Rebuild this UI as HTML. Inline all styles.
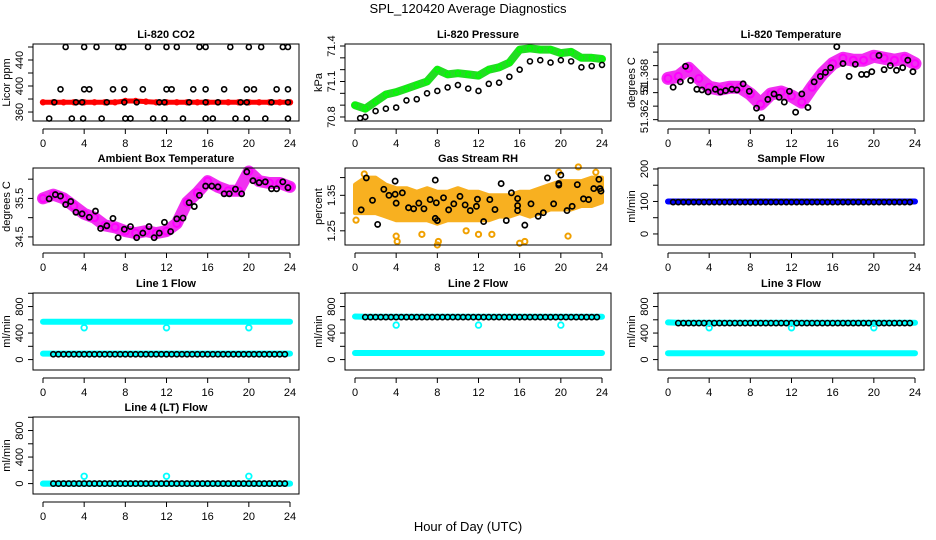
<!DOCTYPE html>
<html><head><meta charset="utf-8"><style>
html,body{margin:0;padding:0;background:#fff;}
svg{display:block;font-family:"Liberation Sans",Arial,sans-serif;}
</style></head><body>
<svg id="chart" width="936" height="540" viewBox="0 0 936 540" xmlns="http://www.w3.org/2000/svg">
<rect x="0" y="0" width="936" height="540" fill="#fff"/>
<text x="468" y="13" text-anchor="middle" font-size="13">SPL_120420  Average Diagnostics</text>
<text x="468" y="531" text-anchor="middle" font-size="13">Hour of Day (UTC)</text>
</svg>
<script>
// ---------- data ----------
const hours = [0,1,2,3,4,5,6,7,8,9,10,11,12,13,14,15,16,17,18,19,20,21,22,23,24];
const xTicks = [0,4,8,12,16,20,24];

const co2Red = [375,375,375,375,375,375,375,375,377,377,376,375,375,375,375,375,375,375,375,375,375,375,375,375,375];
const co2BlackT = [2.2,4,5.2,7.3,7.8,10.2,12,13,15.2,15.8,18.2,20,21.2,23.3,23.8,
  1.7,4,4.5,6.8,7.9,9.7,12,12.5,14.6,15.8,17.6,19.8,20.5,22.7,23.8,
  1.1,3.2,3.8,6.2,7.9,9.1,11.3,11.8,14.2,15.8,17,19.2,19.8,22.2,23.8,
  0.6,2.8,3.9,5.7,8,8.5,10.7,11.8,13.6,15.8,16.5,18.7,19.8,21.6,23.8];
const co2BlackV = [460,460,460,460,460,460,460,460,460,460,460,460,460,460,460,
  395,395,395,395,395,395,395,395,395,395,395,395,395,395,395,
  375,375,375,375,375,375,375,375,375,375,375,375,375,375,375,
  350,350,350,350,350,350,350,350,350,350,350,350,350,350,350];

const presGreen = [70.90,70.87,70.93,70.99,71.01,71.04,71.07,71.10,71.20,71.16,71.17,71.16,71.15,71.20,71.22,71.26,71.37,71.38,71.37,71.37,71.34,71.35,71.30,71.30,71.29];
const presBlackT = [0.5,1,2,3,4,5,6,7,8,9,10,11,12,13,14,15,16,17,18,19,20,21,22,23,24];
const presBlackV = [70.79,70.80,70.85,70.87,70.88,70.94,70.95,71.00,71.02,71.05,71.07,71.04,71.02,71.08,71.09,71.14,71.20,71.27,71.28,71.26,71.28,71.27,71.22,71.23,71.24];

const tempMag = [51.3681,51.3684,51.3696,51.3681,51.3668,51.3665,51.3668,51.3668,51.3658,51.3643,51.3658,51.3661,51.3655,51.3646,51.3668,51.3688,51.3703,51.3711,51.3708,51.3708,51.3714,51.3711,51.3708,51.3711,51.3703];
const tempBlackT = [0.5,1.2,1.7,2.2,2.8,3.3,3.9,4.6,5.1,5.6,6.2,6.7,7.3,7.9,8.6,9.1,9.7,10.3,10.8,11.3,11.8,12.4,13,13.6,14.2,14.8,15.3,15.8,16.4,17,17.6,18.2,18.8,19.3,19.8,20.5,21,21.6,22.2,22.8,23.3,23.8];
const tempBlackV = [51.3668,51.3676,51.3699,51.3678,51.3665,51.3664,51.3661,51.3665,51.3661,51.3663,51.3665,51.3664,51.3673,51.3662,51.3637,51.3623,51.3650,51.3658,51.3653,51.3646,51.3662,51.3631,51.3658,51.3638,51.3676,51.3684,51.3690,51.3697,51.3728,51.3703,51.3684,51.3702,51.3687,51.3687,51.3691,51.3715,51.3694,51.3700,51.3693,51.3697,51.3708,51.3691];

const ambMag = [35.5,35.6,35.5,35.3,35.1,35.0,34.8,34.75,34.65,34.6,34.65,34.6,34.65,34.85,35.4,35.65,35.95,35.8,35.7,35.7,36.2,35.95,35.9,35.9,35.8];
const ambBlackT = [0.6,1.2,1.7,2.2,2.7,3.2,3.8,4.5,5.1,5.6,6.2,6.8,7.3,7.9,8.5,9.1,9.7,10.3,10.8,11.3,11.8,12.4,13,13.6,14.2,14.7,15.2,15.8,16.4,17,17.6,18.1,18.7,19.3,19.8,20.4,21,21.6,22.2,22.7,23.3,23.8];
const ambBlackV = [35.49,35.6,35.56,35.34,35.42,35.14,35.10,35.01,35.17,34.72,34.79,34.98,34.48,34.70,34.77,34.48,34.6,34.77,34.48,34.6,34.88,34.64,34.97,34.99,35.39,35.29,35.58,35.82,35.82,35.8,35.62,35.62,35.74,35.62,36.19,35.96,35.91,35.93,35.75,35.75,35.93,35.78];

const rhUpper = [1.38,1.40,1.40,1.38,1.37,1.37,1.36,1.37,1.36,1.36,1.37,1.36,1.36,1.35,1.35,1.35,1.36,1.36,1.37,1.38,1.39,1.39,1.39,1.40,1.40];
const rhLower = [1.30,1.30,1.30,1.29,1.28,1.28,1.28,1.28,1.27,1.28,1.28,1.28,1.28,1.28,1.29,1.29,1.30,1.29,1.30,1.31,1.31,1.31,1.32,1.32,1.33];
const rhOutT = [0.1,0.9,4,4.1,6.5,8,8.1,10.8,12,13.3,16,16.5,19.8,20.7,21.7,23.4];
const rhOutV = [1.28,1.41,1.235,1.22,1.24,1.21,1.22,1.25,1.24,1.24,1.215,1.22,1.415,1.235,1.43,1.415];
const rhBlackT = [0.6,1.1,1.7,2.2,2.8,3.3,3.9,3.9,4,4.6,5.2,5.7,6.2,6.7,7.3,7.8,7.8,7.9,8,8.6,9.1,9.6,10.2,10.7,11.2,11.8,11.9,12.5,13.1,13.6,14.2,14.7,15.2,15.8,15.8,15.8,16.5,17.1,17.8,18.3,18.7,19.3,19.8,19.8,20,20.6,21.1,21.6,22.2,22.7,23.2,23.7,23.8,23.9];
const rhBlackV = [1.309,1.399,1.336,1.268,1.367,1.35,1.39,1.353,1.328,1.357,1.315,1.312,1.328,1.312,1.338,1.285,1.393,1.329,1.279,1.343,1.309,1.326,1.347,1.323,1.307,1.319,1.339,1.276,1.338,1.31,1.383,1.279,1.357,1.341,1.321,1.307,1.266,1.326,1.291,1.301,1.399,1.326,1.383,1.379,1.407,1.307,1.319,1.38,1.34,1.338,1.369,1.395,1.369,1.362];

const sampleBlue = [100,100,100,100,100,100,100,100,100,100,100,100,100,100,100,100,100,100,100,100,100,100,100,100,100];
const sampleBlack = new Array(47).fill(98);

const dipTimes = [4,12,20];
const l1Upper = [570,570,570,570,570,570,570,570,570,570,570,570,570,570,570,570,570,570,570,570,570,570,570,570,570];
const l1Lower = [90,90,90,90,90,90,90,90,90,90,90,90,90,90,90,90,90,90,90,90,90,90,90,90,90];
const l1Black = new Array(46).fill(80);
const l1Dip = [480,480,480];
const l2Upper = [650,645,645,645,645,645,645,645,645,645,645,645,645,645,645,645,645,645,645,645,645,645,645,645,645];
const l2Lower = [100,100,100,100,100,100,100,100,100,100,100,100,100,100,100,100,100,100,100,100,100,100,100,100,100];
const l2Black = new Array(46).fill(640);
const l2Dip = [520,520,520];
const l3Upper = [560,555,555,555,555,555,555,555,555,555,555,555,555,555,555,555,555,555,555,555,555,555,555,555,555];
const l3Lower = [95,95,95,95,95,95,95,95,95,95,95,95,95,95,95,95,95,95,95,95,95,95,95,95,95];
const l3Black = new Array(46).fill(550);
const l3Dip = [480,480,480];
const l4Upper = [0,0,0,0,0,0,0,0,0,0,0,0,0,0,0,0,0,0,0,0,0,0,0,0,0];
const l4Lower = [0,0,0,0,0,0,0,0,0,0,0,0,0,0,0,0,0,0,0,0,0,0,0,0,0];
const l4Black = new Array(46).fill(0);
const l4Dip = [110,110,110];

// ---------- layout ----------
const svg = document.getElementById('chart');
const NS = 'http://www.w3.org/2000/svg';
const colL = [33, 345, 658];
const rowT = [44, 168, 293, 417];
const BW = 266, BH = 77;

function mk(tag, attrs, name, parent) {
  const e = document.createElementNS(NS, tag);
  for (const k in attrs) e.setAttribute(k, attrs[k]);
  
  
  (parent || svg).appendChild(e);
  return e;
}

function panel(col, row, title, ylab, ymin, ymax, yTickVals, yLabVals, yLabTexts, key) {
  const L = colL[col], T = rowT[row];
  const g = mk('g', {}, key + '-panel');
  const p = {
    L, T, g,
    x: t => L + 10 + t * 247 / 24,
    y: v => T + (ymax - v) / (ymax - ymin) * BH
  };
  mk('text', {x: L + BW / 2, y: T - 6, 'text-anchor': 'middle', 'font-size': 11, 'font-weight': 'bold'}, key + '-title', g).textContent = title;
  const ax = mk('g', {}, key + '-x-axis', g);
  const ay = T + BH + 8;
  mk('line', {x1: p.x(0), x2: p.x(24), y1: ay, y2: ay, stroke: '#000'}, 'x-axis-line', ax);
  xTicks.forEach(t => {
    mk('line', {x1: p.x(t), x2: p.x(t), y1: ay, y2: ay + 5, stroke: '#000'}, 'x-tick', ax);
    mk('text', {x: p.x(t), y: ay + 18, 'text-anchor': 'middle', 'font-size': 11}, 'x-tick-label', ax).textContent = t;
  });
  const yg = mk('g', {}, key + '-y-axis', g);
  yTickVals.forEach(v => {
    mk('line', {x1: L - 5, x2: L, y1: p.y(v), y2: p.y(v), stroke: '#000'}, 'y-tick', yg);
  });
  yLabVals.forEach((v, i) => {
    const yy = p.y(v), xx = L - 10;
    mk('text', {x: xx, y: yy, transform: `rotate(-90 ${xx} ${yy})`, 'text-anchor': 'middle', 'font-size': 11}, 'y-tick-label', yg).textContent = yLabTexts[i];
  });
  const yx = L - 23, yy = T + BH / 2;
  mk('text', {x: yx, y: yy, transform: `rotate(-90 ${yx} ${yy})`, 'text-anchor': 'middle', 'font-size': 11}, key + '-y-title', g).textContent = ylab;
  p.plot = mk('g', {}, key + '-plot-area', g);
  p.drawBox = () => mk('rect', {x: L, y: T, width: BW, height: BH, fill: 'none', stroke: '#000'}, key + '-frame', g);
  return p;
}

function band(p, ts, vs, color, w, name) {
  const pts = ts.map((t, i) => p.x(t).toFixed(1) + ',' + p.y(vs[i]).toFixed(1)).join(' ');
  mk('polyline', {points: pts, fill: 'none', stroke: color, 'stroke-width': w, 'stroke-linejoin': 'round', 'stroke-linecap': 'round'}, name, p.plot);
}
function circles(p, ts, vs, color, r, name, sw) {
  ts.forEach((t, i) => {
    mk('circle', {cx: p.x(t), cy: p.y(vs[i]), r: r, fill: 'none', stroke: color, 'stroke-width': sw || 1.4}, name, p.plot);
  });
}
function steps(n, start, step) { return Array.from({length: n}, (_, i) => start + i * step); }

// CO2
let p = panel(0, 0, 'Li-820 CO2', 'Licor ppm', 346.2, 464.6, [360,380,400,420,440,460], [360,400,440], ['360','400','440'], 'co2');
band(p, hours, co2Red, '#ff0000', 5, 'co2-red-series');
circles(p, hours, co2Red, '#ff0000', 2.5, 'co2-red-point');
circles(p, co2BlackT, co2BlackV, '#000', 2.5, 'co2-black-point', 1.6);
p.drawBox();

// Pressure
p = panel(1, 0, 'Li-820 Pressure', 'kPa', 70.766, 71.417, [70.8,70.9,71.0,71.1,71.2,71.3,71.4], [70.8,71.1,71.4], ['70.8','71.1','71.4'], 'pressure');
band(p, hours, presGreen, '#22dd22', 8, 'pressure-green-series');
circles(p, hours, presGreen, '#00ff00', 2.5, 'pressure-green-point');
circles(p, presBlackT, presBlackV, '#000', 2.5, 'pressure-black-point', 1.6);
p.drawBox();

// Temperature
p = panel(2, 0, 'Li-820 Temperature', 'degrees C', 51.3618, 51.3732, [51.362,51.364,51.366,51.368,51.370,51.372], [51.3625,51.3665,51.3685], ['51.362','51','51.368'], 'temp');
band(p, hours, tempMag, '#f030f0', 13, 'temp-magenta-series');
circles(p, hours, tempMag, '#ff00ff', 3.5, 'temp-magenta-point', 2);
circles(p, tempBlackT, tempBlackV, '#000', 2.6, 'temp-black-point', 1.7);
p.drawBox();

// Ambient
p = panel(0, 1, 'Ambient Box Temperature', 'degrees C', 34.29, 36.29, [34.5,35,35.5,36], [34.5,35.5], ['34.5','35.5'], 'ambient');
band(p, hours, ambMag, '#f030f0', 12, 'ambient-magenta-series');
circles(p, hours, ambMag, '#ff00ff', 3.5, 'ambient-magenta-point', 2);
circles(p, ambBlackT, ambBlackV, '#000', 2.6, 'ambient-black-point', 1.7);
p.drawBox();

// RH
p = panel(1, 1, 'Gas Stream RH', 'percent', 1.21, 1.427, [1.25,1.30,1.35,1.40], [1.25,1.35], ['1.25','1.35'], 'rh');
{
  const up = hours.map((t, i) => p.x(t).toFixed(1) + ',' + p.y(rhUpper[i]).toFixed(1));
  const lo = hours.map((t, i) => p.x(t).toFixed(1) + ',' + p.y(rhLower[i]).toFixed(1)).reverse();
  mk('polygon', {points: up.concat(lo).join(' '), fill: '#f8b020', stroke: '#f8b020', 'stroke-width': 4, 'stroke-linejoin': 'round'}, 'rh-orange-band', p.plot);
}
circles(p, rhOutT, rhOutV, '#f0a000', 2.6, 'rh-orange-point', 2);
circles(p, rhBlackT, rhBlackV, '#000', 2.6, 'rh-black-point', 1.7);
p.drawBox();

// Sample flow
p = panel(2, 1, 'Sample Flow', 'ml/min', -34, 203, [0,50,100,150,200], [0,100,200], ['0','100','200'], 'sample');
band(p, hours, sampleBlue, '#0000ff', 6, 'sample-blue-series');
circles(p, steps(47, 0.5, 0.5), sampleBlack, '#000', 2.6, 'sample-black-point', 1.6);
p.drawBox();

// Line flows
const flowTicks = [0,200,400,600,800,1000];
function flowPanel(col, row, title, key, up, lo, bl, dip) {
  const q = panel(col, row, title, 'ml/min', -157, 1004, flowTicks, [0,400,800], ['0','400','800'], key);
  band(q, hours, up, '#00ffff', 6, key + '-cyan-upper-series');
  band(q, hours, lo, '#00ffff', 6, key + '-cyan-lower-series');
  circles(q, steps(46, 1, 0.5), bl, '#000', 2.6, key + '-black-point', 1.6);
  circles(q, dipTimes, dip, '#00ffff', 2.8, key + '-cyan-dip-point', 1.8);
  q.drawBox();
}
flowPanel(0, 2, 'Line 1 Flow', 'line1', l1Upper, l1Lower, l1Black, l1Dip);
flowPanel(1, 2, 'Line 2 Flow', 'line2', l2Upper, l2Lower, l2Black, l2Dip);
flowPanel(2, 2, 'Line 3 Flow', 'line3', l3Upper, l3Lower, l3Black, l3Dip);
flowPanel(0, 3, 'Line 4 (LT) Flow', 'line4', l4Upper, l4Lower, l4Black, l4Dip);
</script>
</body></html>
